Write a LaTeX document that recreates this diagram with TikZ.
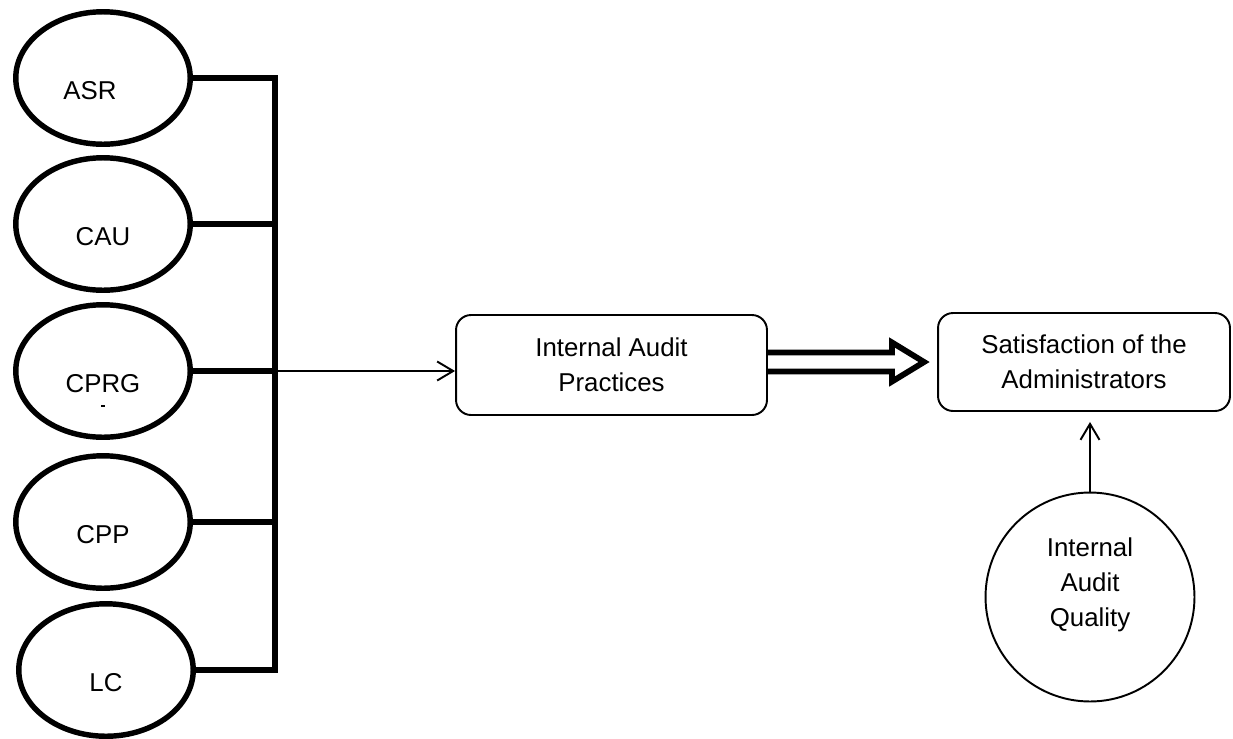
\documentclass[tikz,border=0pt]{standalone}
\usepackage{fontspec}
\setmainfont{Liberation Sans}
\usetikzlibrary{arrows.meta,positioning,shapes,calc}

\begin{document}
\begin{tikzpicture}[
        x=0.02cm, y=-0.02cm,
        every node/.style={font=\fontsize{14.7}{19.9}\selectfont},
        oval/.style={draw, ellipse, line width=3.1pt, minimum width=3.49cm, minimum height=2.65cm, inner sep=0pt, text height=0.87cm, text depth=0pt},
        box/.style={draw, rounded corners=0.3cm, line width=1.1pt, align=center, inner sep=0pt},
        link/.style={line width=3.2pt},
        arrow/.style={line width=1.1pt, -{Straight Barb[length=0.32cm, width=0.38cm]}},
        fat/.style={line width=3.3pt, line join=miter}
    ]
        \useasboundingbox (0,0) rectangle (1233,738);

        % 左侧五个因素
        \node[oval] (asr) at (103,78) {ASR\rule{0.52cm}{0pt}};
        \node[oval] (cau) at (103,224) {CAU};
        \node[oval] (cprg) at (103,371) {CPRG};
        \node[oval] (cpp) at (103,522) {CPP};
        \node[oval] (lc) at (106,670) {LC};
        \fill ([xshift=-0.05cm, yshift=-0.67cm]cprg.center) rectangle ++(0.09cm,-0.045cm);

        % 中间与右侧
        \node[box, minimum width=6.22cm, minimum height=2cm] (prac) at (611.5,365) {Internal Audit\\Practices};
        \node[box, minimum width=5.84cm, minimum height=1.96cm] (satis) at (1084,362) {Satisfaction of the\\Administrators};
        \node[draw, circle, line width=1.1pt, minimum size=4.18cm, inner sep=0pt,
              label={[align=center, yshift=0.24cm]center:{Internal\\Audit\\Quality}}] (iaq) at (1090,597) {};

        % 竖线汇总
        \coordinate (bar) at (275,0);
        \draw[link] (asr.east) -- (asr.east -| bar) -- (lc.east -| bar) -- (lc.east);
        \foreach \n in {cau,cprg,cpp}
            \draw[link] (\n.east) -- (\n.east -| bar);
        \draw[arrow] (cprg.east -| bar) -- (cprg.east -| prac.west);

        % 空心粗箭头
        \coordinate (tip) at ([xshift=-0.26cm]satis.west);
        \draw[fat] ($(prac.east |- tip)+(0,0.19cm)$) -- ($(tip)+(-0.64cm,0.19cm)$)
            -- ($(tip)+(-0.64cm,0.39cm)$) -- (tip) -- ($(tip)+(-0.64cm,-0.39cm)$)
            -- ($(tip)+(-0.64cm,-0.19cm)$) -- ($(prac.east |- tip)+(0,-0.19cm)$);

        \draw[arrow, shorten >=0.2cm] (iaq.north) -- (iaq.north |- satis.south);
    \end{tikzpicture}
\end{document}
